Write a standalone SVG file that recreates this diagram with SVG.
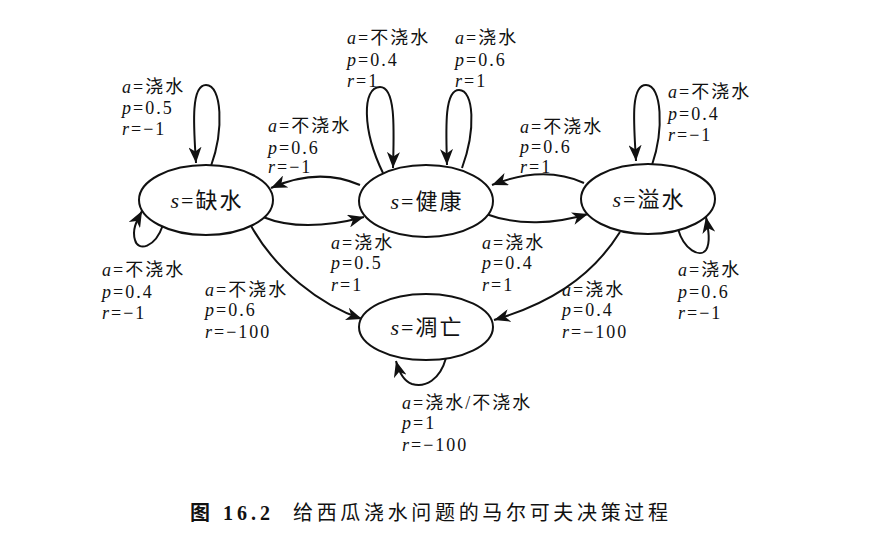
<svg xmlns="http://www.w3.org/2000/svg" width="890" height="556" viewBox="0 0 890 556">
<defs>
<marker id="ah" markerUnits="userSpaceOnUse" markerWidth="17" markerHeight="13" refX="16" refY="6.5" orient="auto">
<path d="M0,0 L16,6.5 L0,13 L4.5,6.5 z" fill="#111"/>
</marker>
<style>
.node ellipse{fill:#fff;stroke:#111;stroke-width:2}
.node text{font-family:"Liberation Serif","Noto Sans CJK SC",serif;font-size:22px;letter-spacing:2px;fill:#111;text-anchor:middle}
.conn path{fill:none;stroke:#111;stroke-width:2;marker-end:url(#ah)}
.lbl{font-family:"Liberation Serif","Noto Sans CJK SC",serif;font-size:18px;letter-spacing:2px;fill:#111}
.i{font-style:italic}
.cap{font-family:"Liberation Serif","Noto Sans CJK SC",serif;font-size:20px;fill:#111}
</style>
</defs>
<rect width="890" height="556" fill="#fff"/>

<g class="conn" id="connectors">
<path d="M 211 166 C 224 130, 222 85, 206 85 C 190 85, 194 130, 196 163"/>
<path d="M 383 173 C 362 130, 362 87, 380 87 C 396 87, 394 130, 393 168"/>
<path d="M 462 168 C 476 130, 474 90, 459 90 C 444 90, 446 130, 447 165"/>
<path d="M 652 165 C 664 130, 662 85, 646 85 C 630 85, 634 125, 636 161"/>
<path d="M 163 225 C 155 248, 138 252, 135 240 C 132 230, 136 222, 142 211"/>
<path d="M 678 229 C 684 250, 700 258, 706 250 C 711 242, 708 228, 706 217"/>
<path d="M 446 358 C 440 380, 425 388, 412 384 C 403 381, 399 372, 396 361"/>
<path d="M 360 185 C 330 172, 300 175, 271 188"/>
<path d="M 263 217 C 295 230, 330 226, 364 217"/>
<path d="M 584 183 C 555 170, 525 172, 492 185"/>
<path d="M 486 214 C 518 226, 555 224, 588 214"/>
<path d="M 250 224 C 275 270, 320 305, 362 319"/>
<path d="M 620 232 C 590 280, 545 305, 494 320"/>
</g>

<g class="node" id="n_queshui"><ellipse cx="206" cy="200" rx="67" ry="35"/><text x="207" y="208"><tspan class="i">s</tspan>=缺水</text></g>
<g class="node" id="n_jiankang"><ellipse cx="426" cy="201" rx="67" ry="36"/><text x="427" y="209"><tspan class="i">s</tspan>=健康</text></g>
<g class="node" id="n_yishui"><ellipse cx="648" cy="199" rx="67" ry="35"/><text x="649" y="207"><tspan class="i">s</tspan>=溢水</text></g>
<g class="node" id="n_diaowang"><ellipse cx="426" cy="327" rx="67" ry="33"/><text x="427" y="335"><tspan class="i">s</tspan>=凋亡</text></g>

<g id="labels" class="lbl">
<text x="122" y="93"><tspan class="i">a</tspan>=浇水</text>
<text x="122" y="114"><tspan class="i">p</tspan>=0.5</text>
<text x="122" y="135"><tspan class="i">r</tspan>=−1</text>

<text x="347" y="44"><tspan class="i">a</tspan>=不浇水</text>
<text x="347" y="66"><tspan class="i">p</tspan>=0.4</text>
<text x="347" y="87"><tspan class="i">r</tspan>=1</text>

<text x="455" y="44"><tspan class="i">a</tspan>=浇水</text>
<text x="455" y="66"><tspan class="i">p</tspan>=0.6</text>
<text x="455" y="87"><tspan class="i">r</tspan>=1</text>

<text x="668" y="98"><tspan class="i">a</tspan>=不浇水</text>
<text x="668" y="120"><tspan class="i">p</tspan>=0.4</text>
<text x="668" y="141"><tspan class="i">r</tspan>=−1</text>

<text x="268" y="132"><tspan class="i">a</tspan>=不浇水</text>
<text x="268" y="154"><tspan class="i">p</tspan>=0.6</text>
<text x="268" y="173"><tspan class="i">r</tspan>=−1</text>

<text x="520" y="133"><tspan class="i">a</tspan>=不浇水</text>
<text x="520" y="153"><tspan class="i">p</tspan>=0.6</text>
<text x="520" y="173"><tspan class="i">r</tspan>=1</text>

<text x="102" y="276"><tspan class="i">a</tspan>=不浇水</text>
<text x="102" y="298"><tspan class="i">p</tspan>=0.4</text>
<text x="102" y="319"><tspan class="i">r</tspan>=−1</text>

<text x="205" y="296"><tspan class="i">a</tspan>=不浇水</text>
<text x="205" y="316"><tspan class="i">p</tspan>=0.6</text>
<text x="205" y="338"><tspan class="i">r</tspan>=−100</text>

<text x="331" y="249"><tspan class="i">a</tspan>=浇水</text>
<text x="331" y="269"><tspan class="i">p</tspan>=0.5</text>
<text x="331" y="291"><tspan class="i">r</tspan>=1</text>

<text x="482" y="249"><tspan class="i">a</tspan>=浇水</text>
<text x="482" y="269"><tspan class="i">p</tspan>=0.4</text>
<text x="482" y="291"><tspan class="i">r</tspan>=1</text>

<text x="562" y="296"><tspan class="i">a</tspan>=浇水</text>
<text x="562" y="316"><tspan class="i">p</tspan>=0.4</text>
<text x="562" y="338"><tspan class="i">r</tspan>=−100</text>

<text x="678" y="276"><tspan class="i">a</tspan>=浇水</text>
<text x="678" y="298"><tspan class="i">p</tspan>=0.6</text>
<text x="678" y="319"><tspan class="i">r</tspan>=−1</text>

<text x="402" y="409"><tspan class="i">a</tspan>=浇水/不浇水</text>
<text x="402" y="429"><tspan class="i">p</tspan>=1</text>
<text x="402" y="451"><tspan class="i">r</tspan>=−100</text>
</g>

<g id="caption">
<text class="cap" x="190" y="520" font-weight="bold" textLength="80" lengthAdjust="spacing">图 16.2</text>
<text class="cap" x="293" y="520" textLength="375" lengthAdjust="spacing">给西瓜浇水问题的马尔可夫决策过程</text>
</g>
</svg>
